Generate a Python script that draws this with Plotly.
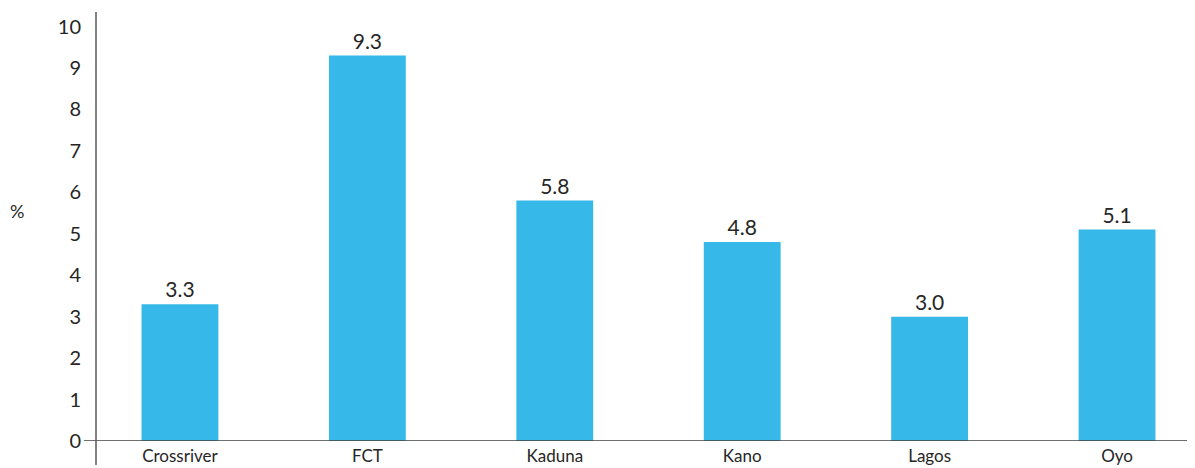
import plotly.graph_objects as go

categories = ["Crossriver", "FCT", "Kaduna", "Kano", "Lagos", "Oyo"]
values = [3.3, 9.3, 5.8, 4.8, 3.0, 5.1]
value_labels = ["3.3", "9.3", "5.8", "4.8", "3.0", "5.1"]
y_ticks = list(range(0, 11))

fig = go.Figure()
fig.add_trace(go.Bar(
    x=list(range(len(categories))),
    y=values,
    width=0.41,
    marker=dict(color="#36B8E9", line=dict(width=0)),
    text=value_labels,
    textposition="outside",
    textfont=dict(family="Lato", size=21, color="#262626"),
    cliponaxis=False,
))

fig.update_layout(
    width=1195, height=468,
    margin=dict(l=88, r=8, t=4, b=35),
    paper_bgcolor="white", plot_bgcolor="white",
    showlegend=False,
    xaxis=dict(
        range=[-0.448, 5.416],
        tickmode="array",
        tickvals=list(range(len(categories))),
        ticktext=categories,
        tickfont=dict(family="Lato", size=17, color="#262626"),
        showgrid=False, zeroline=False, showline=False,
        ticks="", ticklabelstandoff=3, automargin=False,
    ),
    yaxis=dict(
        range=[0, 10.35],
        tickmode="array",
        tickvals=y_ticks,
        ticktext=[str(v) for v in y_ticks],
        tickfont=dict(family="Lato", size=20, color="#262626"),
        showgrid=False, zeroline=False, showline=False,
        ticks="", ticklabelstandoff=14, automargin=False,
    ),
    annotations=[dict(
        text="%", xref="paper", yref="y", x=-0.072, y=5.56,
        showarrow=False, font=dict(family="Lato", size=18, color="#262626"),
        xanchor="center", yanchor="middle",
    )],
    shapes=[
        dict(type="line", xref="paper", yref="y", x0=-0.011, x1=1.01, y0=0, y1=0,
             line=dict(color="#404040", width=1.5)),
        dict(type="line", xref="paper", yref="paper", x0=0, x1=0, y0=-0.056, y1=1,
             line=dict(color="#595959", width=1.5)),
    ],
)

fig.write_html("out.html")
